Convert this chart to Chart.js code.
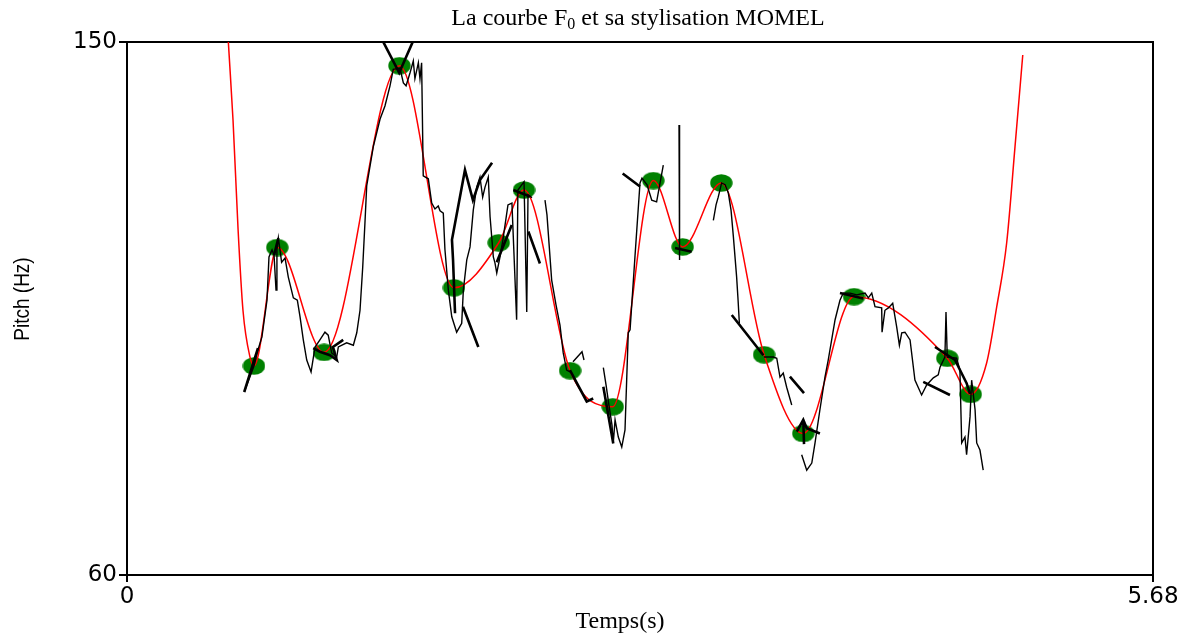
<!DOCTYPE html>
<html>
<head>
<meta charset="utf-8">
<script src="https://cdn.jsdelivr.net/npm/chart.js@4.4.1/dist/chart.umd.min.js"></script>
<style>
body { margin: 0; background: #fff; }
</style>
</head>
<body>
<canvas id="canvas" width="1192" height="637"></canvas>
<script>
// MOMEL targets (s, Hz)
const targetTimes = [0.703, 0.832, 1.091, 1.508, 1.810, 2.058, 2.198, 2.453, 2.689, 2.914, 3.076, 3.290, 3.527, 3.744, 4.025, 4.541, 4.671];
const targetPitch = [95.3, 115.3, 97.6, 146.0, 108.5, 116.1, 125.0, 94.5, 88.4, 126.6, 115.4, 126.2, 97.2, 83.9, 107.0, 96.6, 90.5];

// stylised curve: its two outer branches, the middle runs through the targets
const momelHeadTimes = [0.551, 0.561, 0.587, 0.615, 0.642, 0.681];
const momelHeadPitch = [155.4, 150.0, 136.8, 118.3, 104.7, 96.8];
const momelTailTimes = [4.759, 4.815, 4.870, 4.916, 4.959];
const momelTailPitch = [95.8, 105.3, 116.1, 132.3, 147.8];

// raw F0 track, null = unvoiced gap
const f0Times = [
  0.649, 0.703, 0.725, 0.747, 0.775, 0.786, 0.803, 0.814, 0.825, 0.830, 0.838, 0.856, 0.875, 0.893, 0.921, 0.943, 0.958, 0.976, 0.995, 1.019,
  1.041, 1.068, 1.096, 1.114, 1.133, 1.161, 1.170, 1.216, 1.253, 1.272, 1.290, 1.305, 1.318, 1.327, 1.364, 1.401, 1.428, 1.456, 1.474, 1.511,
  1.530, 1.545, 1.567, 1.585, 1.594, 1.613, 1.622, 1.631, 1.640, 1.668, 1.687, 1.705, 1.723, 1.733, 1.751, 1.760, 1.779, 1.798, 1.825, 1.853,
  1.862, 1.881, 1.899, 1.917, 1.936, 1.954, 1.969, 1.982, 2.000, 2.010, 2.028, 2.037, 2.047, 2.065, 2.081, 2.109, 2.131, 2.157, 2.164, 2.181,
  2.198, 2.213, 2.220, 2.242, null,
  2.314, 2.325, 2.351, 2.375, 2.397, 2.415, 2.434, 2.452, null,
  2.469, 2.519, 2.530, null,
  2.637, 2.652, 2.668, 2.685, 2.692, 2.702, 2.720, 2.739, 2.757, 2.775, 2.785, 2.812, 2.840, 2.851, 2.879, 2.905, 2.932, 2.951, 2.969, null,
  3.056, 3.059, null,
  3.246, 3.261, 3.273, 3.292, 3.311, 3.329, 3.344, 3.357, 3.375, 3.383, 3.390, null,
  3.526, 3.578, 3.597, 3.615, 3.633, 3.652, 3.680, null,
  3.735, 3.763, 3.791, 3.809, 3.836, 3.864, 3.882, 3.901, 3.920, 3.938, 3.947, 3.965, 4.003, 4.040, 4.086, 4.104, 4.123, 4.141, 4.178, 4.180,
  4.196, 4.215, 4.239, 4.261, 4.276, 4.289, 4.307, 4.335, 4.362, 4.399, 4.427, 4.464, 4.491, 4.501, 4.528, 4.534, 4.541, 4.593, 4.611, 4.621,
  4.639, 4.648, 4.657, 4.667, 4.676, 4.695, 4.704, 4.722, 4.740
];
const f0Pitch = [
  90.9, 95.3, 98.0, 100.2, 106.4, 113.7, 114.9, 114.0, 108.1, 114.9, 116.9, 112.8, 113.5, 110.3, 106.8, 106.4, 103.6, 99.7, 96.3, 94.3,
  98.5, 99.7, 101.0, 100.5, 97.5, 96.8, 98.5, 99.2, 98.8, 100.9, 104.7, 112.0, 119.9, 125.7, 132.4, 137.0, 139.2, 142.6, 145.4, 145.6,
  143.1, 142.6, 144.8, 146.8, 143.8, 146.5, 143.8, 146.5, 127.4, 126.9, 122.8, 121.8, 122.3, 121.5, 121.1, 115.0, 108.1, 103.6, 101.0, 102.5,
  108.1, 113.2, 115.4, 121.6, 125.5, 127.2, 123.8, 125.5, 127.2, 120.5, 113.7, 112.7, 111.0, 113.7, 116.6, 122.5, 122.8, 103.1, 125.0, 125.7,
  126.4, 104.4, 124.2, 123.7, null,
  123.3, 120.8, 109.8, 105.6, 102.2, 97.5, 94.6, 94.3, null,
  96.0, 97.7, 96.3, null,
  95.0, 92.1, 88.7, 85.3, 82.3, 86.2, 83.3, 81.6, 84.5, 100.9, 101.4, 113.7, 126.2, 127.0, 125.9, 123.3, 123.0, 126.2, 129.2, null,
  136.0, 113.2, null,
  119.9, 122.5, 123.8, 126.2, 125.9, 124.5, 121.6, 117.1, 110.3, 106.4, 102.5, null,
  96.8, 96.8, 96.6, 93.4, 94.1, 91.7, 88.7, null,
  80.3, 77.7, 78.9, 82.3, 87.9, 93.4, 96.3, 99.7, 103.1, 105.3, 106.4, 107.6, 107.6, 107.3, 107.6, 106.8, 107.6, 105.3, 105.1, 101.0,
  104.7, 105.1, 105.9, 101.9, 98.8, 100.9, 101.0, 99.7, 92.9, 90.4, 92.1, 93.3, 93.8, 95.1, 96.8, 104.4, 96.8, 96.6, 94.6, 82.3,
  83.3, 80.3, 83.3, 86.7, 92.9, 87.9, 82.3, 81.1, 77.7
];

// short candidate segments (drawn thick)
const segTimes = [
  0.649, 0.725, null, 0.814, 0.838, null,
  1.031, 1.068, 1.124, 1.161, 1.140, 1.197, null,
  1.402, 1.507, 1.596, null,
  1.816, 1.805, 1.799, 1.871, 1.915, 1.954, 2.021, null,
  1.860, 1.945, null, 2.047, 2.130, null, 2.139, 2.231, null, 2.222, 2.286, null,
  2.452, 2.545, 2.581, null, 2.637, 2.692, null, 2.744, 2.840, null, 3.034, 3.126, null,
  3.348, 3.523, null, 3.670, 3.748, null,
  3.708, 3.744, 3.763, 3.836, null, 3.744, 3.748, null,
  3.947, 4.076, null, 4.473, 4.584, 4.648, 4.667, null, 4.408, 4.556
];
const segPitch = [
  90.9, 98.3, null, 114.0, 116.9, null,
  98.3, 97.7, 97.1, 96.3, 98.5, 99.7, null,
  151.0, 144.8, 151.0, null,
  104.2, 113.2, 116.6, 128.4, 123.3, 126.7, 129.6, null,
  105.3, 98.5, null, 112.8, 119.1, null, 125.0, 123.9, null, 118.0, 112.6, null,
  94.6, 89.3, 89.8, null, 91.8, 82.2, null, 127.8, 125.6, null, 115.2, 114.6, null,
  103.9, 97.1, null, 93.5, 90.7, null,
  84.2, 86.2, 84.8, 83.9, null, 86.2, 82.1, null,
  107.6, 106.7, null, 98.5, 96.3, 92.4, 90.6, null, 92.6, 90.4
];

const xTicks = [0, 5.68];
const yTicks = [60, 150];

function pairs(ts, vs) {
  return ts.map((t, i) => ({ x: t, y: vs[i] }));
}

// green ellipse used as marker
let dot = document.createElement("canvas");
dot.width = 23;
dot.height = 18;
let dctx = dot.getContext("2d");
dctx.fillStyle = "#008000";
dctx.beginPath();
dctx.ellipse(11.5, 9, 11.2, 8.7, 0, 0, 2 * Math.PI);
dctx.fill();

let momelTimes = momelHeadTimes.concat(targetTimes, momelTailTimes);
let momelPitch = momelHeadPitch.concat(targetPitch, momelTailPitch);

// title, axis names
const textPlugin = {
  id: "texts",
  afterDraw(chart) {
    const ctx = chart.ctx;
    ctx.save();
    ctx.fillStyle = "#000";
    ctx.textBaseline = "alphabetic";
    ctx.textAlign = "left";
    let big = "24px 'Liberation Serif'";
    let small = "16px 'Liberation Serif'";
    let a = "La courbe F", b = "0", c = " et sa stylisation MOMEL";
    ctx.font = big;
    let wa = ctx.measureText(a).width, wc = ctx.measureText(c).width;
    ctx.font = small;
    let wb = ctx.measureText(b).width;
    let x0 = 638 - (wa + wb + wc) / 2;
    ctx.font = big;
    ctx.fillText(a, x0, 25);
    ctx.font = small;
    ctx.fillText(b, x0 + wa, 29);
    ctx.font = big;
    ctx.fillText(c, x0 + wa + wb, 25);

    ctx.textAlign = "center";
    ctx.fillText("Temps(s)", 620, 628);

    // axis name, a little wide like the tick digits
    ctx.translate(23, 299);
    ctx.scale(1.2, 1);
    ctx.rotate(-Math.PI / 2);
    ctx.font = "19px 'Liberation Sans'";
    ctx.textBaseline = "middle";
    ctx.fillText("Pitch (Hz)", 0, 0);
    ctx.restore();
  }
};

let ctx = document.getElementById("canvas").getContext("2d");
let chart = new Chart(ctx, {
  type: "scatter",
  data: {
    datasets: [
      {
        data: pairs(segTimes, segPitch),
        showLine: true, spanGaps: false,
        borderColor: "#000", borderWidth: 2.6,
        pointRadius: 0, order: 0
      },
      {
        data: pairs(f0Times, f0Pitch),
        showLine: true, spanGaps: false,
        borderColor: "#000", borderWidth: 1.4,
        pointRadius: 0, order: 1
      },
      {
        data: pairs(momelTimes, momelPitch),
        showLine: true,
        cubicInterpolationMode: "monotone",
        borderColor: "#ff0000", borderWidth: 1.5,
        pointRadius: 0, order: 2
      },
      {
        data: pairs(targetTimes, targetPitch),
        showLine: false,
        pointStyle: dot, pointRadius: 5,
        order: 3
      }
    ]
  },
  options: {
    responsive: false,
    animation: false,
    events: [],
    layout: { padding: { top: 42, right: 39, left: 0, bottom: 0 } },
    plugins: { legend: { display: false }, tooltip: { enabled: false } },
    scales: {
      x: {
        type: "linear", position: "bottom", min: 0, max: 5.68,
        afterBuildTicks: s => { s.ticks = xTicks.map(v => ({ value: v })); },
        afterFit: s => { s.height = 62; s.paddingLeft = 0; s.paddingRight = 0; },
        ticks: { color: "#000", font: { family: "DejaVu Sans", size: 23 }, padding: 1, maxRotation: 0, autoSkip: false, callback: v => String(v) },
        grid: { drawOnChartArea: false, color: "#000", lineWidth: 2, tickLength: 7 },
        border: { color: "#000", width: 2 }
      },
      y: {
        type: "linear", position: "left", min: 60, max: 150,
        afterBuildTicks: s => { s.ticks = yTicks.map(v => ({ value: v })); },
        afterFit: s => { s.width = 127; s.paddingTop = 0; s.paddingBottom = 0; },
        ticks: { color: "#000", font: { family: "DejaVu Sans", size: 23 }, padding: 2, autoSkip: false, callback: v => String(v) },
        grid: { drawOnChartArea: false, color: "#000", lineWidth: 2, tickLength: 8 },
        border: { color: "#000", width: 2 }
      },
      x2: {
        type: "linear", position: "top", min: 0, max: 5.68,
        afterFit: s => { s.height = 0; },
        ticks: { display: false },
        grid: { display: false },
        border: { color: "#000", width: 2 }
      },
      y2: {
        type: "linear", position: "right", min: 60, max: 150,
        afterFit: s => { s.width = 0; },
        ticks: { display: false },
        grid: { display: false },
        border: { color: "#000", width: 2 }
      }
    }
  },
  plugins: [textPlugin]
});
</script>
</body>
</html>
